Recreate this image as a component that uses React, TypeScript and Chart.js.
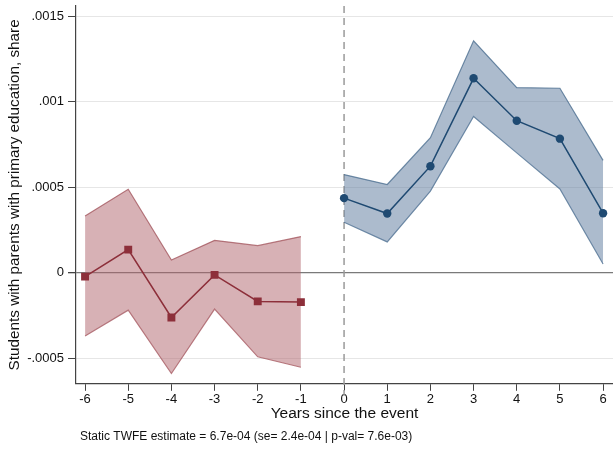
import React, { useEffect, useRef } from "react";
import { Chart, registerables } from "chart.js";

Chart.register(...registerables);

const preYears = [-6, -5, -4, -3, -2, -1];
const preEst = [-0.000023, 0.000135, -0.000262, -0.000013, -0.000168, -0.000172];
const preUpper = [0.000332, 0.000488, 0.000074, 0.000189, 0.000158, 0.000211];
const preLower = [-0.000371, -0.000219, -0.00059, -0.000213, -0.000492, -0.000553];

const postYears = [0, 1, 2, 3, 4, 5, 6];
const postEst = [0.000436, 0.000346, 0.000623, 0.001137, 0.000889, 0.000784, 0.000348];
const postUpper = [0.000574, 0.000516, 0.00079, 0.001356, 0.001083, 0.001079, 0.000657];
const postLower = [0.000295, 0.00018, 0.000477, 0.000914, 0.000701, 0.00049, 0.000051];

const xTicks = [-6, -5, -4, -3, -2, -1, 0, 1, 2, 3, 4, 5, 6];
const yTicks = [-0.0005, 0, 0.0005, 0.001, 0.0015];
const yTickLabels = ["-.0005", "0", ".0005", ".001", ".0015"];

const xTitle = "Years since the event";
const yTitle = "Students with parents with primary education, share";
const note = "Static TWFE estimate = 6.7e-04 (se= 2.4e-04 | p-val= 7.6e-03)";

const FONT = "'Liberation Sans', Arial, sans-serif";

const pts = (xs: number[], ys: number[]) => xs.map((x, i) => ({ x, y: ys[i] }));

export default function App() {
  const ref = useRef<HTMLCanvasElement | null>(null);
  useEffect(() => {
    document.body.style.margin = "0";
    const canvas = ref.current!;
    const overlay = {
      id: "overlay",
      beforeDatasetsDraw(chart: any) {
        const { ctx, chartArea, scales } = chart;
        const x0 = scales.x.getPixelForValue(0);
        ctx.save();
        ctx.strokeStyle = "#9a9a9a";
        ctx.lineWidth = 1.5;
        ctx.setLineDash([7, 5]);
        ctx.beginPath();
        ctx.moveTo(x0, chartArea.top);
        ctx.lineTo(x0, chartArea.bottom + 12);
        ctx.stroke();
        ctx.restore();
      },
      afterDraw(chart: any) {
        const { ctx, chartArea } = chart;
        ctx.save();
        ctx.fillStyle = "#111";
        ctx.font = `12px ${FONT}`;
        ctx.textBaseline = "middle";
        ctx.textAlign = "left";
        ctx.fillText(note, chartArea.left + 4, chart.height - 13);
        ctx.restore();
      },
    };
    const chart = new Chart(canvas, {
      type: "line",
      data: {
        datasets: [
          {
            data: pts(preYears, preUpper),
            borderColor: "rgba(160,80,88,0.75)",
            borderWidth: 1.2,
            backgroundColor: "rgba(175,100,108,0.5)",
            pointRadius: 0,
            fill: "+1",
            order: 3,
          },
          {
            data: pts(preYears, preLower),
            borderColor: "rgba(160,80,88,0.75)",
            borderWidth: 1.2,
            pointRadius: 0,
            fill: false,
            order: 3,
          },
          {
            data: pts(postYears, postUpper),
            borderColor: "rgba(70,105,140,0.75)",
            borderWidth: 1.2,
            backgroundColor: "rgba(90,120,155,0.5)",
            pointRadius: 0,
            fill: "+1",
            order: 3,
          },
          {
            data: pts(postYears, postLower),
            borderColor: "rgba(70,105,140,0.75)",
            borderWidth: 1.2,
            pointRadius: 0,
            fill: false,
            order: 3,
          },
          {
            data: pts(preYears, preEst),
            borderColor: "#8d2f3a",
            backgroundColor: "#8d2f3a",
            borderWidth: 1.5,
            pointStyle: "rect",
            pointRadius: 5.6,
            pointBorderWidth: 0,
            fill: false,
            order: 1,
          },
          {
            data: pts(postYears, postEst),
            borderColor: "#1f4a72",
            backgroundColor: "#1f4a72",
            borderWidth: 1.5,
            pointStyle: "circle",
            pointRadius: 4.2,
            pointBorderWidth: 0,
            fill: false,
            order: 1,
          },
        ],
      },
      options: {
        animation: false,
        responsive: false,
        layout: { autoPadding: false, padding: { top: 6, right: 0, left: 0, bottom: 27 } },
        plugins: { legend: { display: false }, tooltip: { enabled: false } },
        scales: {
          x: {
            type: "linear",
            min: -6.21,
            max: 6.23,
            afterBuildTicks: (s: any) => {
              s.ticks = xTicks.map((v) => ({ value: v }));
            },
            afterFit: (s: any) => {
              s.paddingLeft = 0;
              s.paddingRight = 0;
            },
            ticks: {
              color: "#111",
              font: { family: FONT, size: 13 },
              padding: 1,
              maxRotation: 0,
              autoSkip: false,
              callback: (v: any) => String(v),
            },
            grid: { drawOnChartArea: false, drawTicks: true, tickLength: 7, tickColor: "#444", lineWidth: 1 },
            border: { color: "#444", width: 1.2 },
            title: {
              display: true,
              text: xTitle,
              color: "#111",
              font: { family: FONT, size: 15.5 },
              padding: { top: -4, bottom: 0 },
            },
          },
          y: {
            type: "linear",
            min: -0.00065,
            max: 0.00156,
            afterBuildTicks: (s: any) => {
              s.ticks = yTicks.map((v) => ({ value: v }));
            },
            afterFit: (s: any) => {
              s.width = 76;
              s.paddingTop = 0;
              s.paddingBottom = 0;
            },
            ticks: {
              color: "#111",
              font: { family: FONT, size: 13 },
              padding: 4,
              callback: (v: any) => {
                const i = yTicks.findIndex((t) => Math.abs(t - v) < 1e-12);
                return i >= 0 ? yTickLabels[i] : "";
              },
            },
            grid: {
              color: (c: any) => (c.tick && Math.abs(c.tick.value) < 1e-12 ? "#7a7a7a" : "#e6e6e6"),
              lineWidth: (c: any) => (c.tick && Math.abs(c.tick.value) < 1e-12 ? 1.3 : 1),
              tickLength: 8,
              tickColor: "#444",
            },
            border: { color: "#444", width: 1.2 },
            title: {
              display: true,
              text: yTitle,
              color: "#111",
              font: { family: FONT, size: 15.3 },
              padding: { top: 6, bottom: 0 },
            },
          },
        },
      },
      plugins: [overlay],
    });
    return () => chart.destroy();
  }, []);
  return <canvas ref={ref} width={613} height={450} style={{ display: "block" }} />;
}
